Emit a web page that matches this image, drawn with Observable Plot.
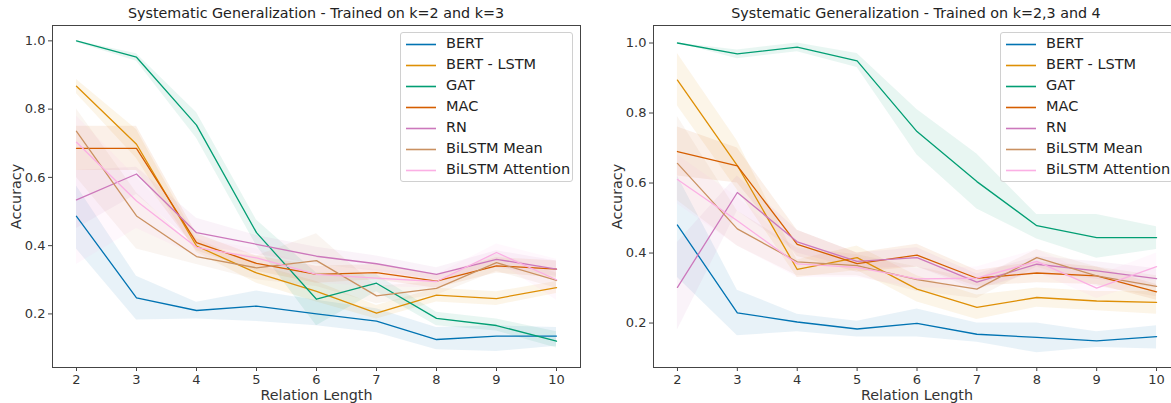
<!DOCTYPE html>
<html>
<head>
<meta charset="utf-8">
<script src="https://cdn.jsdelivr.net/npm/d3@7"></script>
<script src="https://cdn.jsdelivr.net/npm/@observablehq/plot@0.6"></script>
<style>
  html, body { margin: 0; padding: 0; background: #fff; overflow: hidden; width: 1171px; height: 403px; }
  body { position: relative; font-family: "DejaVu Sans", sans-serif; }
  .panel { position: absolute; top: 0; width: 600px; }
  .panel svg { max-width: none !important; }
  .title { position: absolute; top: 5px; font-size: 14.3px; color: #222; white-space: nowrap; transform: translateX(-50%); }
  .legend { position: absolute; background: rgba(255,255,255,0.85); border: 1px solid #d0d0d0; border-radius: 3px; box-sizing: border-box; }
  .legend .row { position: absolute; left: 0; height: 21px; font-size: 14.5px; color: #222; white-space: nowrap; }
  .legend .row svg { position: absolute; left: 4px; top: 0; }
  .legend .row span { position: absolute; left: 45px; top: 1px; }
</style>
</head>
<body>
<script>
const lengths = [2, 3, 4, 5, 6, 7, 8, 9, 10];
const models = ["BERT", "BERT - LSTM", "GAT", "MAC", "RN", "BiLSTM Mean", "BiLSTM Attention"];
const colors = ["#0173b2", "#de8f05", "#029e73", "#d55e00", "#cc78bc", "#ca9161", "#fbafe4"];
const titles = ["Systematic Generalization - Trained on k=2 and k=3", "Systematic Generalization - Trained on k=2,3 and 4"];
const xTicks = [2, 3, 4, 5, 6, 7, 8, 9, 10];
const yTicks = [0.2, 0.4, 0.6, 0.8, 1.0];

// Panel 1: trained on k=2 and k=3
const left_BERT      = [0.486, 0.247, 0.210, 0.223, 0.200, 0.179, 0.125, 0.135, 0.135];
const left_BERT_LSTM = [0.867, 0.697, 0.399, 0.320, 0.266, 0.202, 0.255, 0.245, 0.277];
const left_GAT       = [1.000, 0.952, 0.753, 0.438, 0.243, 0.290, 0.187, 0.166, 0.120];
const left_MAC       = [0.685, 0.685, 0.409, 0.348, 0.316, 0.321, 0.296, 0.341, 0.331];
const left_RN        = [0.534, 0.610, 0.438, 0.404, 0.369, 0.347, 0.316, 0.360, 0.331];
const left_Mean      = [0.735, 0.487, 0.368, 0.335, 0.356, 0.253, 0.275, 0.350, 0.298];
const left_Att       = [0.703, 0.531, 0.395, 0.364, 0.316, 0.305, 0.295, 0.380, 0.300];
const left_lo = [
  [0.390, 0.182, 0.185, 0.178, 0.165, 0.145, 0.095, 0.090, 0.105],
  [0.845, 0.655, 0.380, 0.290, 0.235, 0.185, 0.235, 0.225, 0.260],
  [0.995, 0.940, 0.715, 0.400, 0.165, 0.265, 0.165, 0.150, 0.100],
  [0.620, 0.620, 0.385, 0.325, 0.290, 0.300, 0.275, 0.320, 0.305],
  [0.450, 0.550, 0.400, 0.375, 0.345, 0.325, 0.300, 0.335, 0.310],
  [0.600, 0.390, 0.345, 0.300, 0.280, 0.230, 0.255, 0.325, 0.275],
  [0.345, 0.450, 0.370, 0.340, 0.290, 0.280, 0.275, 0.355, 0.240]
];
const left_hi = [
  [0.575, 0.310, 0.234, 0.267, 0.240, 0.215, 0.160, 0.165, 0.160],
  [0.887, 0.740, 0.420, 0.345, 0.295, 0.225, 0.275, 0.265, 0.295],
  [1.000, 0.962, 0.790, 0.475, 0.320, 0.315, 0.205, 0.185, 0.148],
  [0.750, 0.750, 0.435, 0.370, 0.340, 0.345, 0.315, 0.365, 0.355],
  [0.620, 0.630, 0.480, 0.430, 0.395, 0.370, 0.335, 0.385, 0.355],
  [0.800, 0.555, 0.390, 0.370, 0.435, 0.280, 0.295, 0.375, 0.320],
  [0.780, 0.600, 0.420, 0.390, 0.340, 0.330, 0.315, 0.405, 0.360]
];

// Panel 2: trained on k=2,3 and 4
const right_BERT      = [0.480, 0.229, 0.203, 0.183, 0.199, 0.168, 0.159, 0.149, 0.161];
const right_BERT_LSTM = [0.894, 0.650, 0.353, 0.387, 0.297, 0.245, 0.273, 0.263, 0.259];
const right_GAT       = [1.000, 0.969, 0.988, 0.949, 0.747, 0.604, 0.478, 0.444, 0.444];
const right_MAC       = [0.690, 0.649, 0.425, 0.370, 0.394, 0.328, 0.343, 0.335, 0.289];
const right_RN        = [0.302, 0.573, 0.432, 0.376, 0.387, 0.317, 0.368, 0.349, 0.327];
const right_Mean      = [0.656, 0.469, 0.375, 0.364, 0.324, 0.297, 0.387, 0.335, 0.305];
const right_Att       = [0.610, 0.492, 0.369, 0.359, 0.326, 0.328, 0.376, 0.300, 0.361];
const right_lo = [
  [0.330, 0.164, 0.175, 0.160, 0.160, 0.145, 0.115, 0.130, 0.126],
  [0.820, 0.580, 0.330, 0.350, 0.260, 0.210, 0.245, 0.235, 0.225],
  [1.000, 0.955, 0.975, 0.930, 0.680, 0.526, 0.440, 0.385, 0.410],
  [0.620, 0.600, 0.390, 0.345, 0.360, 0.305, 0.315, 0.310, 0.265],
  [0.180, 0.520, 0.400, 0.355, 0.360, 0.295, 0.345, 0.325, 0.300],
  [0.550, 0.420, 0.335, 0.335, 0.290, 0.270, 0.360, 0.305, 0.275],
  [0.540, 0.420, 0.330, 0.330, 0.300, 0.300, 0.345, 0.270, 0.325]
];
const right_hi = [
  [0.620, 0.294, 0.225, 0.205, 0.240, 0.200, 0.200, 0.175, 0.192],
  [0.970, 0.720, 0.380, 0.420, 0.335, 0.280, 0.300, 0.290, 0.290],
  [1.000, 0.980, 1.000, 0.970, 0.810, 0.683, 0.510, 0.510, 0.475],
  [0.760, 0.700, 0.465, 0.400, 0.425, 0.350, 0.375, 0.360, 0.310],
  [0.430, 0.620, 0.465, 0.400, 0.415, 0.340, 0.390, 0.375, 0.355],
  [0.790, 0.520, 0.415, 0.395, 0.360, 0.325, 0.410, 0.360, 0.335],
  [0.680, 0.560, 0.410, 0.390, 0.355, 0.360, 0.410, 0.335, 0.400]
];

const leftMeans = [left_BERT, left_BERT_LSTM, left_GAT, left_MAC, left_RN, left_Mean, left_Att];
const rightMeans = [right_BERT, right_BERT_LSTM, right_GAT, right_MAC, right_RN, right_Mean, right_Att];

function rows(means, lo, hi) {
  const out = [];
  models.forEach((m, i) => lengths.forEach((x, j) => out.push({model: m, x, y: means[i][j], lo: lo[i][j], hi: hi[i][j]})));
  return out;
}

function panel(data, yDomain, marginLeft) {
  return Plot.plot({
    width: 600, height: 403,
    marginLeft, marginRight: 20, marginTop: 25, marginBottom: 36,
    style: {fontFamily: "DejaVu Sans, sans-serif", fontSize: "13px", color: "#333", background: "white", overflow: "visible", maxWidth: "none"},
    x: {domain: [1.6, 10.4]},
    y: {domain: yDomain},
    color: {domain: models, range: colors},
    marks: [
      Plot.areaY(data, {x: "x", y1: "lo", y2: "hi", z: "model", fill: "model", fillOpacity: 0.09}),
      Plot.line(data, {x: "x", y: "y", z: "model", stroke: "model", strokeWidth: 1.3}),
      Plot.frame({stroke: "#444", strokeWidth: 1}),
      Plot.axisX({ticks: xTicks, tickSize: 4, tickPadding: 3, stroke: "#444", fontSize: 13, fill: "#333", label: null}),
      Plot.axisX({ticks: [], tickSize: 0, fontSize: 14.3, fill: "#333", label: "Relation Length", labelAnchor: "center", labelArrow: "none", labelOffset: 32}),
      Plot.axisY({ticks: yTicks, tickFormat: d3.format(".1f"), tickSize: 4, tickPadding: 3, stroke: "#444", fontSize: 13, fill: "#333", label: null}),
      Plot.axisY({ticks: [], tickSize: 0, fontSize: 14.3, fill: "#333", label: "Accuracy", labelAnchor: "center", labelArrow: "none", labelOffset: 42})
    ]
  });
}

function addPanel(left, data, yDomain, marginLeft, title, titleX, legendBox) {
  const div = document.createElement("div");
  div.className = "panel";
  div.style.left = left + "px";
  div.appendChild(panel(data, yDomain, marginLeft));
  document.body.appendChild(div);
  const t = document.createElement("div");
  t.className = "title";
  t.style.left = titleX + "px";
  t.textContent = title;
  document.body.appendChild(t);
  const lg = document.createElement("div");
  lg.className = "legend";
  lg.style.left = legendBox.x + "px";
  lg.style.top = legendBox.y + "px";
  lg.style.width = legendBox.w + "px";
  lg.style.height = legendBox.h + "px";
  models.forEach((m, i) => {
    const r = document.createElement("div");
    r.className = "row";
    r.style.top = (1 + 21 * i) + "px";
    r.style.width = legendBox.w + "px";
    r.innerHTML = `<svg width="32" height="21"><line x1="1" x2="31" y1="10.5" y2="10.5" stroke="${colors[i]}" stroke-width="1.6"/></svg><span>${m}</span>`;
    lg.appendChild(r);
  });
  document.body.appendChild(lg);
}

addPanel(0, rows(leftMeans, left_lo, left_hi), [0.043, 1.045], 52, titles[0], 316, {x: 400, y: 32, w: 173, h: 150});
addPanel(600, rows(rightMeans, right_lo, right_hi), [0.073, 1.05], 53, titles[1], 916, {x: 1000, y: 32, w: 173, h: 150});
</script>
</body>
</html>
